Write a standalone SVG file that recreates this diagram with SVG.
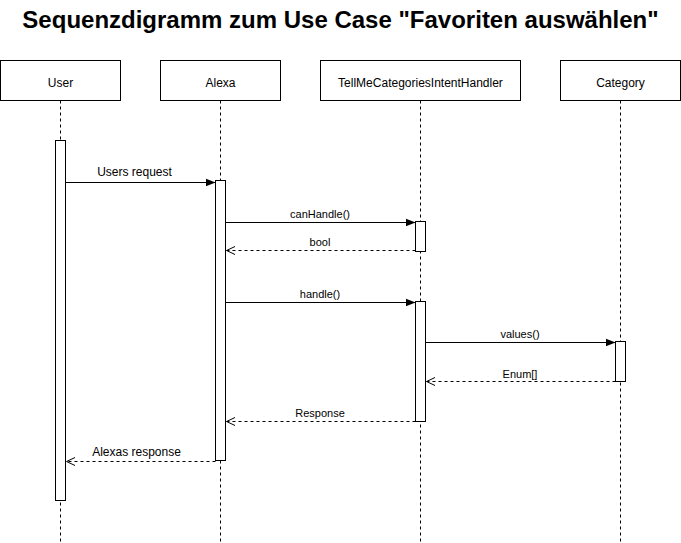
<svg xmlns="http://www.w3.org/2000/svg" width="681" height="543" viewBox="0 0 681 543">
<defs>
<marker id="filled" viewBox="0 0 10 10" refX="10" refY="5" markerWidth="10" markerHeight="10" markerUnits="userSpaceOnUse" orient="auto">
<path d="M0,1 L10,5 L0,9 Z" fill="#000"/>
</marker>
<marker id="open" viewBox="0 0 10 10" refX="10" refY="5" markerWidth="10" markerHeight="10" markerUnits="userSpaceOnUse" orient="auto">
<path d="M1,1 L9.5,5 L1,9" fill="none" stroke="#000" stroke-width="1"/>
</marker>
</defs>
<style>
.box{fill:#fff;stroke:#000;stroke-width:1}
.life{stroke:#000;stroke-width:1;stroke-dasharray:3 3;fill:none}
.act{fill:#fff;stroke:#000;stroke-width:1}
.name{font-family:"Liberation Sans",Arial,sans-serif;font-size:12px;fill:#000;text-anchor:middle}
.msg{stroke:#000;stroke-width:1;fill:none}
.call{marker-end:url(#filled)}
.ret{stroke-dasharray:3 3;marker-end:url(#open)}
.lbl{font-family:"Liberation Sans",Arial,sans-serif;font-size:11px;fill:#000;text-anchor:middle}
.lbl12{font-size:12px}
.title{font-family:"Liberation Sans",Arial,sans-serif;font-size:24px;font-weight:bold;fill:#000;text-anchor:middle}
</style>
<rect width="681" height="543" fill="#fff"/>
<text class="title" x="340.5" y="27.5">Sequenzdigramm zum Use Case "Favoriten auswählen"</text>
<g id="user">
<rect class="box" x="0.5" y="60.5" width="120" height="40"/>
<text class="name" x="60.5" y="87">User</text>
<line class="life" x1="60.5" y1="100.5" x2="60.5" y2="543"/>
<rect class="act" x="55.5" y="140.5" width="10" height="360"/>
</g>
<g id="alexa">
<rect class="box" x="160.5" y="60.5" width="120" height="40"/>
<text class="name" x="220.5" y="87">Alexa</text>
<line class="life" x1="220.5" y1="100.5" x2="220.5" y2="543"/>
<rect class="act" x="215.5" y="180.5" width="10" height="280"/>
</g>
<g id="handler">
<rect class="box" x="320.5" y="60.5" width="200" height="40"/>
<text class="name" x="420.5" y="87">TellMeCategoriesIntentHandler</text>
<line class="life" x1="420.5" y1="100.5" x2="420.5" y2="543"/>
<rect class="act" x="415.5" y="221.5" width="10" height="30"/>
<rect class="act" x="415.5" y="301.5" width="10" height="120"/>
</g>
<g id="category">
<rect class="box" x="560.5" y="60.5" width="120" height="40"/>
<text class="name" x="620.5" y="87">Category</text>
<line class="life" x1="620.5" y1="100.5" x2="620.5" y2="543"/>
<rect class="act" x="615.5" y="341.5" width="10" height="40"/>
</g>
<g id="connectors">
<line class="msg call" x1="65.5" y1="182.5" x2="215.5" y2="182.5"/>
<text class="lbl lbl12" x="134.5" y="175.5">Users request</text>
<line class="msg call" x1="225.5" y1="222.5" x2="415.5" y2="222.5"/>
<text class="lbl" x="320" y="218">canHandle()</text>
<line class="msg ret" x1="415.5" y1="250.5" x2="226" y2="250.5"/>
<text class="lbl" x="320" y="246">bool</text>
<line class="msg call" x1="225.5" y1="302.5" x2="415.5" y2="302.5"/>
<text class="lbl" x="320" y="298">handle()</text>
<line class="msg call" x1="425.5" y1="342.5" x2="615.5" y2="342.5"/>
<text class="lbl" x="520" y="338">values()</text>
<line class="msg ret" x1="615.5" y1="381.5" x2="426" y2="381.5"/>
<text class="lbl" x="520" y="378">Enum[]</text>
<line class="msg ret" x1="415.5" y1="421.5" x2="226" y2="421.5"/>
<text class="lbl" x="320" y="417">Response</text>
<line class="msg ret" x1="215.5" y1="461.5" x2="66" y2="461.5"/>
<text class="lbl lbl12" x="136.5" y="455.5">Alexas response</text>
</g>
</svg>
